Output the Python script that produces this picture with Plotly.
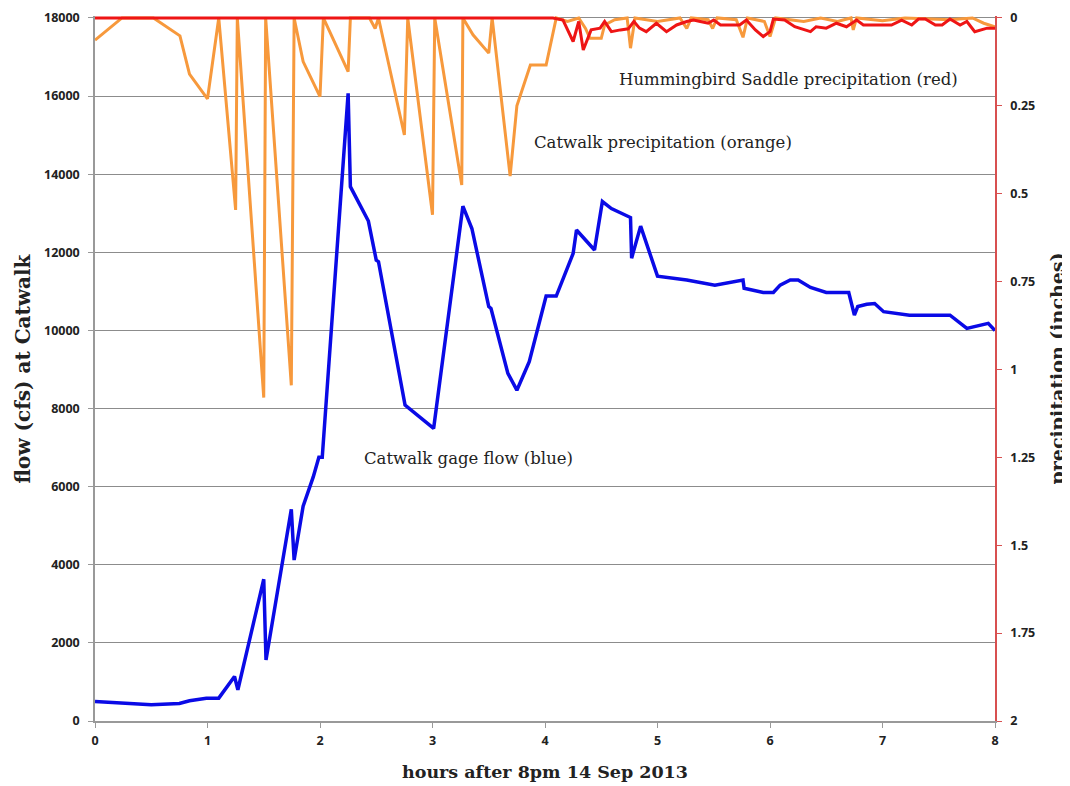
import plotly.graph_objects as go

# ---- data ----
hours_flow = [0, 0.25, 0.5, 0.75, 0.84, 0.99, 1.10, 1.24, 1.27, 1.50, 1.52, 1.745, 1.77, 1.85,
              1.94, 1.99, 2.02, 2.25, 2.27, 2.43, 2.50, 2.52, 2.756, 3.01, 3.27, 3.35, 3.50, 3.52,
              3.67, 3.75, 3.86, 4.01, 4.10, 4.25, 4.28, 4.44, 4.51, 4.59, 4.76, 4.77, 4.85, 5.0,
              5.26, 5.51, 5.76, 5.77, 5.94, 6.03, 6.09, 6.18, 6.25, 6.36, 6.50, 6.70, 6.75, 6.78,
              6.86, 6.93, 7.01, 7.24, 7.6, 7.75, 7.94, 8.0]
flow_cfs = [500, 450, 415, 450, 520, 580, 585, 1140, 800, 3630, 1560, 5420, 4120, 5500,
            6250, 6750, 6750, 16070, 13680, 12800, 11800, 11760, 8090, 7490, 13180, 12610, 10610, 10560,
            8900, 8470, 9200, 10880, 10880, 11970, 12570, 12060, 13300, 13120, 12890, 11850, 12670, 11390,
            11290, 11160, 11290, 11080, 10970, 10970, 11160, 11290, 11290, 11100, 10970, 10970, 10390, 10610,
            10670, 10690, 10480, 10390, 10390, 10050, 10180, 10000]

hours_catwalk = [0, 0.24, 0.52, 0.755, 0.84, 1.0, 1.10, 1.25, 1.265, 1.50,
                 1.517, 1.745, 1.77, 1.85, 2.0, 2.03, 2.25, 2.27, 2.44, 2.49,
                 2.52, 2.75, 2.78, 3.0, 3.02, 3.26, 3.27, 3.36, 3.5, 3.53,
                 3.69, 3.75, 3.87, 4.01, 4.10, 4.2, 4.3, 4.36, 4.40, 4.50,
                 4.53, 4.62, 4.73, 4.76, 4.80, 5.0, 5.2, 5.26, 5.3, 5.45,
                 5.49, 5.53, 5.7, 5.76, 5.8, 5.95, 6.0, 6.05, 6.3, 6.45,
                 6.6, 6.72, 6.74, 6.77, 7.0, 7.2, 7.6, 7.8, 7.9, 8.0]
catwalk_precip = [0.063, 0, 0, 0.051, 0.16, 0.23, 0, 0.546, 0, 1.08,
                  0, 1.045, 0, 0.124, 0.224, 0, 0.153, 0, 0, 0.03,
                  0, 0.333, 0, 0.56, 0, 0.475, 0, 0.048, 0.1, 0,
                  0.45, 0.25, 0.134, 0.134, 0, 0.01, 0, 0.03, 0.058, 0.058,
                  0.02, 0.005, 0, 0.086, 0, 0.01, 0, 0.03, 0, 0.005,
                  0.03, 0, 0.005, 0.055, 0, 0.01, 0.053, 0, 0.01, 0,
                  0.01, 0, 0.034, 0, 0.008, 0, 0.005, 0, 0.015, 0.025]

hours_hs = [0, 4.07, 4.16, 4.25, 4.30, 4.34, 4.41, 4.49, 4.53, 4.59,
            4.67, 4.74, 4.79, 4.84, 4.90, 4.99, 5.08, 5.17, 5.26, 5.32,
            5.38, 5.45, 5.50, 5.56, 5.66, 5.73, 5.79, 5.87, 5.94, 6.0,
            6.03, 6.13, 6.22, 6.36, 6.41, 6.50, 6.59, 6.68, 6.77, 6.83,
            6.96, 7.08, 7.17, 7.26, 7.32, 7.38, 7.47, 7.53, 7.60, 7.69,
            7.75, 7.82, 7.93, 8.0]
hs_precip = [0, 0, 0.006, 0.067, 0.01, 0.091, 0.034, 0.029, 0.01, 0.039,
             0.034, 0.031, 0.01, 0.029, 0.039, 0.015, 0.039, 0.02, 0.01, 0.006,
             0.01, 0.015, 0.006, 0.02, 0.02, 0.02, 0.006, 0.034, 0.053, 0.039,
             0.003, 0.006, 0.025, 0.039, 0.025, 0.029, 0.015, 0.025, 0.006, 0.02,
             0.02, 0.02, 0.006, 0.02, 0.003, 0.003, 0.02, 0.02, 0.003, 0.02,
             0.01, 0.039, 0.029, 0.029]

x_ticks = [0, 1, 2, 3, 4, 5, 6, 7, 8]
flow_ticks = [0, 2000, 4000, 6000, 8000, 10000, 12000, 14000, 16000, 18000]
flow_tick_text = ["0", "2000", "4000", "6000", "8000", "10000", "12000", "14000", "16000", "18000"]
precip_ticks = [0, 0.25, 0.5, 0.75, 1, 1.25, 1.5, 1.75, 2]
precip_tick_text = ["0", "0.25", "0.5", "0.75", "1", "1.25", "1.5", "1.75", "2"]

BLUE = "#0a0ae6"
ORANGE = "#f7993c"
RED = "#ee1515"
SERIF = "DejaVu Serif"
TICKFONT = dict(family="Open Sans", size=12.5, color="#222", weight="bold")

# small headroom so the zero-precip lines along the top are not half clipped
FLOW_TOP = 18050
PRECIP_TOP = -(FLOW_TOP - 18000) / 9000.0

fig = go.Figure()
fig.add_trace(go.Scatter(x=hours_flow, y=flow_cfs, mode="lines",
                         line=dict(color=BLUE, width=3.5), yaxis="y", showlegend=False))
fig.add_trace(go.Scatter(x=hours_catwalk, y=catwalk_precip, mode="lines",
                         line=dict(color=ORANGE, width=3), yaxis="y2", showlegend=False))
fig.add_trace(go.Scatter(x=hours_hs, y=hs_precip, mode="lines",
                         line=dict(color=RED, width=3), yaxis="y2", showlegend=False))

# the page body adds an 8px offset, so the figure is 8px smaller than the window
fig.update_layout(
    width=1062, height=778,
    margin=dict(l=87, r=75, t=8, b=65),
    paper_bgcolor="white", plot_bgcolor="white",
    xaxis=dict(range=[0, 8], tickvals=x_ticks, showgrid=False, zeroline=False,
               showline=True, linecolor="#999", linewidth=1.5, automargin=False,
               ticks="outside", ticklen=5, tickcolor="#999", tickfont=TICKFONT,
               ticklabelstandoff=2),
    yaxis=dict(range=[0, FLOW_TOP], tickvals=flow_ticks, ticktext=flow_tick_text,
               showgrid=True, gridcolor="#8c8c8c", automargin=False,
               gridwidth=1, zeroline=False, showline=True, linecolor="#999", linewidth=1.5,
               ticks="outside", ticklen=5, tickcolor="#999", tickfont=TICKFONT,
               ticklabelstandoff=6),
    yaxis2=dict(range=[2, PRECIP_TOP], overlaying="y", side="right", tickvals=precip_ticks,
                ticktext=precip_tick_text, showgrid=False, zeroline=False, automargin=False,
                showline=True, linecolor="#d85050", linewidth=1.5,
                ticks="outside", ticklen=5, tickcolor="#d85050", tickfont=TICKFONT,
                ticklabelstandoff=6),
)

annots = [
    dict(x=6.16, y=16435, xref="x", yref="y", text="Hummingbird Saddle precipitation (red)"),
    dict(x=5.05, y=14800, xref="x", yref="y", text="Catwalk precipitation (orange)"),
    dict(x=3.32, y=6710, xref="x", yref="y", text="Catwalk gage flow (blue)"),
]
for a in annots:
    fig.add_annotation(**a, showarrow=False, xanchor="center", yanchor="middle",
                       font=dict(family=SERIF, size=16.5, color="#222"))

fig.add_annotation(x=0, y=0.5, xref="paper", yref="paper", xshift=-73, textangle=-90,
                   xanchor="center", yanchor="middle",
                   text="flow (cfs) at Catwalk", showarrow=False,
                   font=dict(family=SERIF, size=20, color="#222", weight="bold"))
fig.add_annotation(x=1, y=0.5, xref="paper", yref="paper", xshift=61, textangle=-90,
                   xanchor="center", yanchor="middle",
                   text="precipitation (inches)", showarrow=False,
                   font=dict(family=SERIF, size=19, color="#222", weight="bold"))
fig.add_annotation(x=0.5, y=0, xref="paper", yref="paper", yshift=-51,
                   xanchor="center", yanchor="middle",
                   text="hours after 8pm 14 Sep 2013", showarrow=False,
                   font=dict(family=SERIF, size=17.5, color="#222", weight="bold"))

fig.write_html("out.html")
